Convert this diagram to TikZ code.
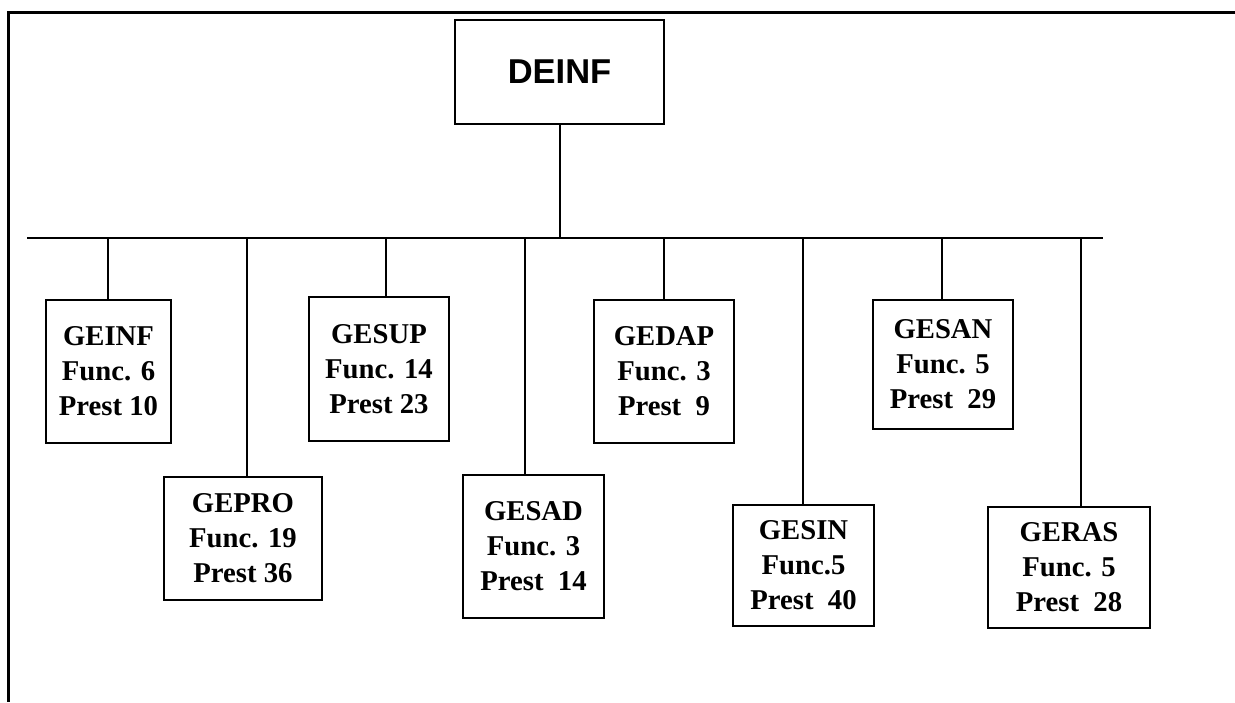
\documentclass[tikz,border=0pt]{standalone}
\usepackage{fontspec}
\setmainfont{Liberation Serif}
\newfontfamily\arialfont{Liberation Sans}
\begin{document}
\begin{tikzpicture}[x=1pt,y=-1pt,
  unit/.style={draw, line width=2pt, inner sep=0pt, outer sep=0pt, align=center,
    font=\fontsize{28.7}{35}\selectfont\bfseries},
  link/.style={line width=1.3pt},
  frame/.style={line width=3pt}]
\useasboundingbox (0,0) rectangle (1235,702);
% frame
\coordinate (ftl) at (8,12);
\coordinate (ftr) at (1235,12);
\coordinate (fbl) at (8,702);
\draw[frame] (ftr) -- (ftl) -- (fbl);
% top box
\node[draw, line width=2pt, inner sep=0pt, outer sep=0pt, minimum width=209pt, minimum height=104pt,
  font=\arialfont\fontsize{34.5}{40}\selectfont\bfseries] (deinf) at (559.5,72) {DEINF};
% children
\node[unit, minimum width=125pt, minimum height=143pt] (geinf) at (108.5,371.5) {GEINF\\Func. 6\\Prest 10};
\node[unit, minimum width=158pt, minimum height=123pt] (gepro) at (243,538.5) {GEPRO\\Func. 19\\Prest 36};
\node[unit, minimum width=140pt, minimum height=144pt] (gesup) at (379,369) {GESUP\\Func. 14\\Prest 23};
\node[unit, minimum width=141pt, minimum height=143pt] (gesad) at (533.5,546.5) {GESAD\\Func. 3\\Prest\ \ 14};
\node[unit, minimum width=140pt, minimum height=143pt] (gedap) at (664,371.5) {GEDAP\\Func. 3\\Prest\ \ 9};
\node[unit, minimum width=141pt, minimum height=121pt] (gesin) at (803.5,565.5) {GESIN\\Func.5\\Prest\ \ 40};
\node[unit, minimum width=140pt, minimum height=129pt] (gesan) at (943,364.5) {GESAN\\Func. 5\\Prest\ \ 29};
\node[unit, minimum width=162pt, minimum height=121pt] (geras) at (1069,567.5) {GERAS\\Func. 5\\Prest\ \ 28};
% bus
\coordinate (busL) at (27,238);
\coordinate (busR) at (1103,238);
\draw[link] (busL) -- (busR);
\coordinate (b0) at (560,238);
\draw[link] (b0) -- (b0 |- deinf.south);
\coordinate (b1) at (108,238);
\coordinate (b2) at (247,238);
\coordinate (b3) at (386,238);
\coordinate (b4) at (525,238);
\coordinate (b5) at (664,238);
\coordinate (b6) at (803,238);
\coordinate (b7) at (942,238);
\coordinate (b8) at (1081,238);
\draw[link] (b1) -- (b1 |- geinf.north);
\draw[link] (b2) -- (b2 |- gepro.north);
\draw[link] (b3) -- (b3 |- gesup.north);
\draw[link] (b4) -- (b4 |- gesad.north);
\draw[link] (b5) -- (b5 |- gedap.north);
\draw[link] (b6) -- (b6 |- gesin.north);
\draw[link] (b7) -- (b7 |- gesan.north);
\draw[link] (b8) -- (b8 |- geras.north);
\end{tikzpicture}
\end{document}
